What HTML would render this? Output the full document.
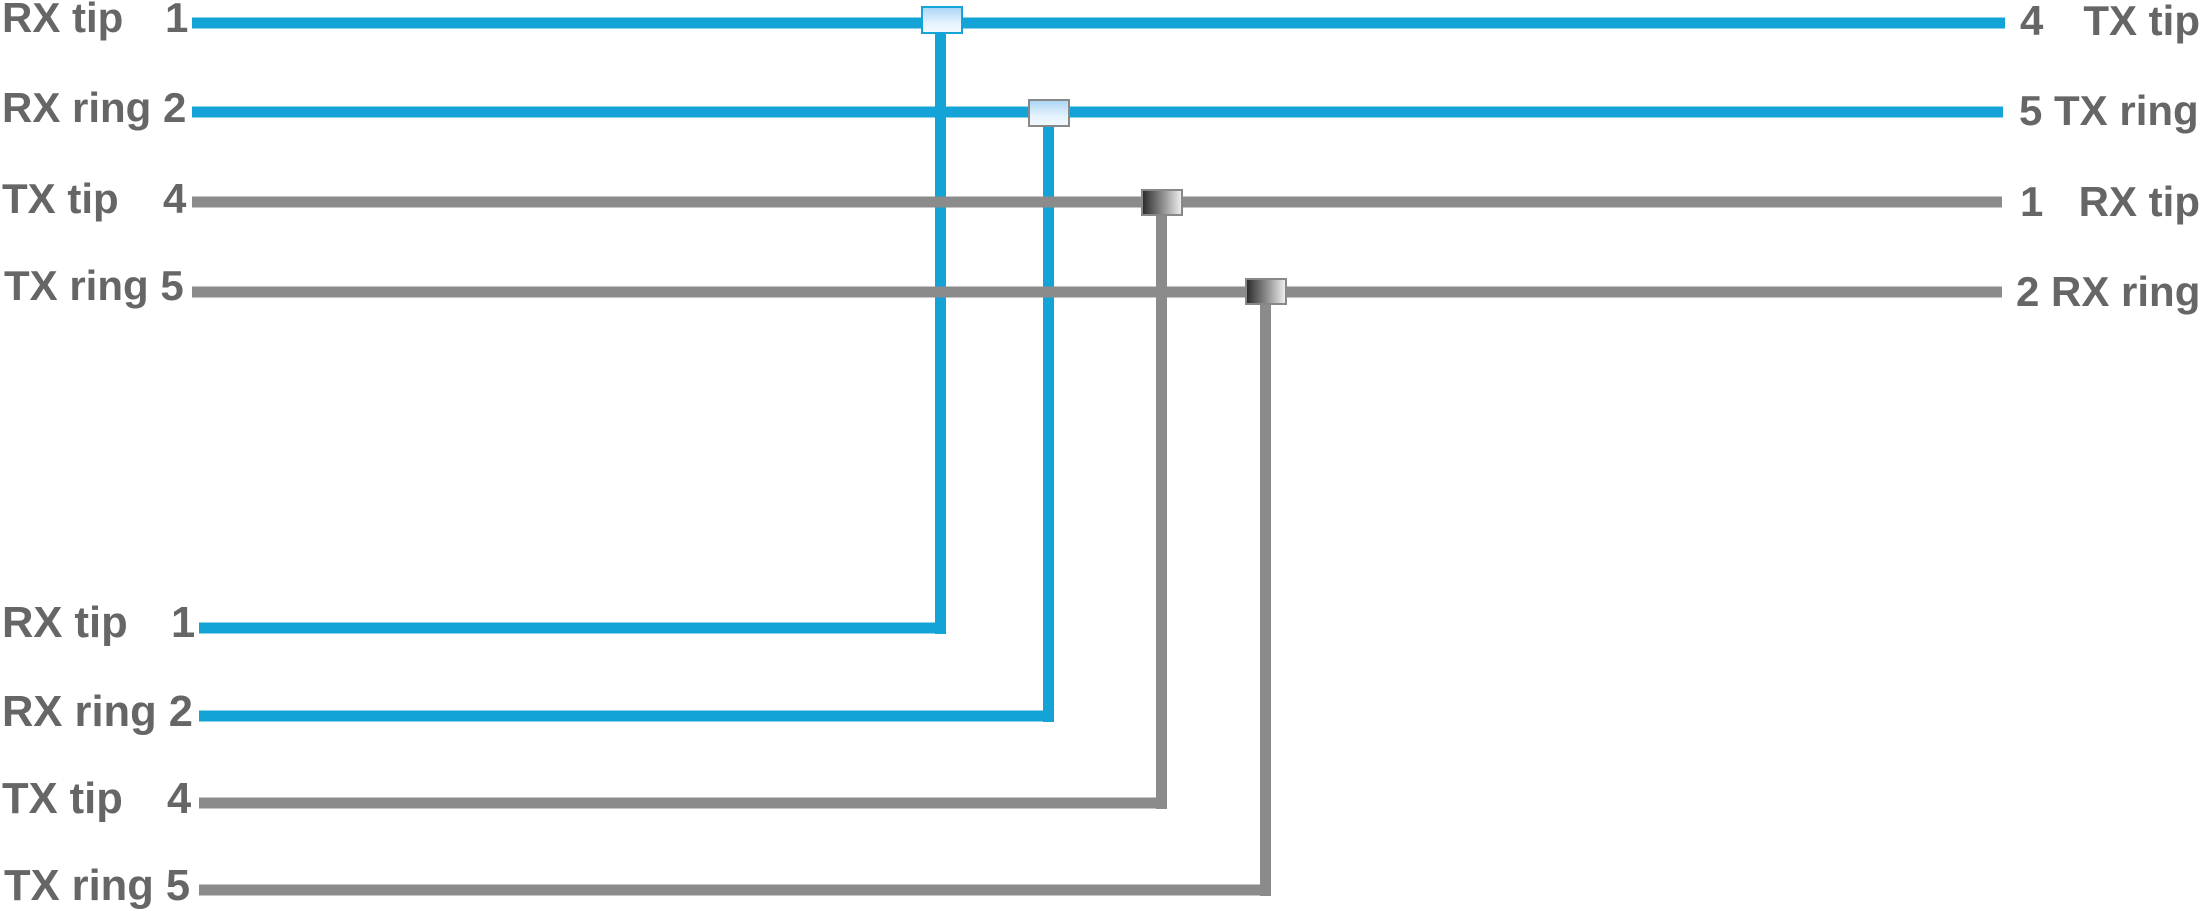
<!DOCTYPE html>
<html><head><meta charset="utf-8"><style>
html,body{margin:0;padding:0;background:#fff;}
svg{display:block;}
text{font-family:"Liberation Sans",Arial,sans-serif;font-weight:bold;fill:#666666;}
</style></head><body>
<svg width="2203" height="913" viewBox="0 0 2203 913" xmlns="http://www.w3.org/2000/svg">
<defs>
<linearGradient id="bl" x1="0" y1="0" x2="0" y2="1">
<stop offset="0" stop-color="#a9d4f5"/><stop offset="0.6" stop-color="#e3f2fd"/><stop offset="1" stop-color="#f4faff"/>
</linearGradient>
<linearGradient id="gr" x1="0" y1="0" x2="1" y2="0">
<stop offset="0" stop-color="#2a2a2a"/><stop offset="0.5" stop-color="#8a8a8a"/><stop offset="1" stop-color="#f2f2f2"/>
</linearGradient>
</defs>
<g fill="#14a3d6">
<rect x="192" y="17.5" width="1813" height="11"/>
<rect x="192" y="106.5" width="1811" height="11"/>
<rect x="935" y="30" width="11" height="604"/>
<rect x="199" y="622.5" width="747" height="11"/>
<rect x="1043" y="120" width="11" height="602"/>
<rect x="199" y="710.5" width="855" height="11"/>
</g>
<g fill="#8a8b8a">
<rect x="192" y="196.5" width="1810" height="11"/>
<rect x="192" y="286.5" width="1810" height="11"/>
<rect x="1156" y="210" width="11" height="599"/>
<rect x="199" y="797.5" width="968" height="11"/>
<rect x="1260" y="300" width="11" height="596"/>
<rect x="199" y="884.5" width="1072" height="11"/>
</g>
<rect x="922" y="7" width="40" height="26" fill="url(#bl)" stroke="#14a3d6" stroke-width="2"/>
<rect x="1029" y="100" width="40" height="26" fill="url(#bl)" stroke="#888" stroke-width="2"/>
<rect x="1142" y="190" width="40" height="25" fill="url(#gr)" stroke="#888" stroke-width="2"/>
<rect x="1246" y="279" width="40" height="25" fill="url(#gr)" stroke="#888" stroke-width="2"/>
<g font-size="42">
<text x="2" y="32">RX tip</text><text x="165" y="32">1</text>
<text x="2" y="122">RX ring 2</text>
<text x="2" y="213">TX tip</text><text x="163" y="213">4</text>
<text x="4" y="300">TX ring 5</text>
</g>
<g font-size="43.5">
<text x="2" y="637">RX tip</text><text x="171" y="637">1</text>
<text x="2" y="726">RX ring 2</text>
<text x="2" y="813">TX tip</text><text x="167" y="813">4</text>
<text x="4" y="900">TX ring 5</text>
</g>
<g font-size="42">
<text x="2020" y="35">4</text><text x="2200" y="35" text-anchor="end">TX tip</text>
<text x="2019" y="125">5 TX ring</text>
<text x="2020" y="216">1</text><text x="2200" y="216" text-anchor="end">RX tip</text>
<text x="2016" y="306">2 RX ring</text>
</g>
</svg>
</body></html>
